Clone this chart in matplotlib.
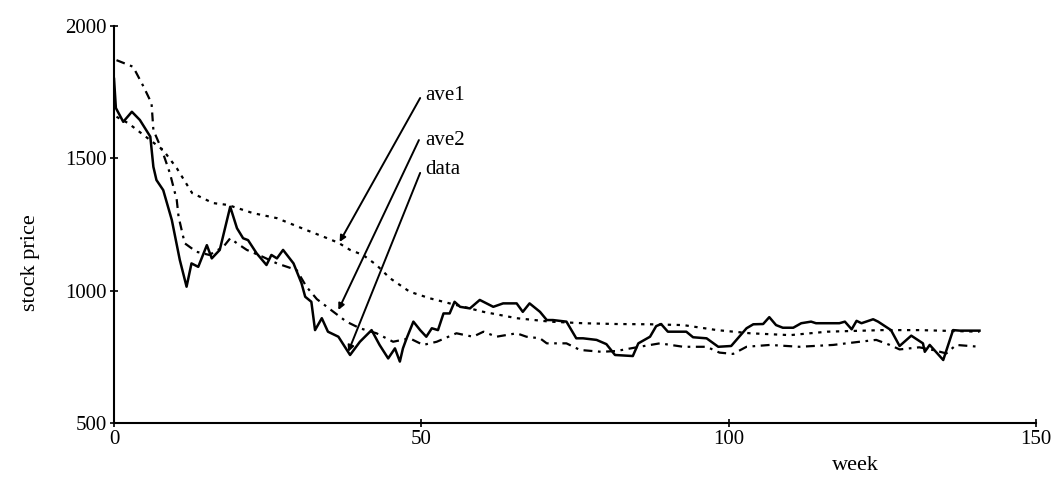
import matplotlib
matplotlib.use("Agg")
import matplotlib.pyplot as plt

plt.rcParams["font.family"] = ["Liberation Serif", "DejaVu Serif"]

# weekly closing price
data_weeks = [0, 0.3, 1.5, 2.9, 4.2, 5.9, 6.4, 6.9, 8.0, 9.4, 10.7, 11.8, 12.6, 13.7,
              15.1, 15.9, 17.2, 18.9, 20.0, 21.0, 21.8, 23.2, 24.8, 25.6, 26.5, 27.5,
              29.2, 30.5, 31.1, 32.1, 32.7, 33.8, 34.8, 36.5, 38.4, 40.0, 41.9, 43.2,
              44.6, 45.7, 46.5, 47.0, 47.6, 48.7, 49.8, 50.8, 51.7, 52.7, 53.6, 54.6,
              55.4, 56.3, 57.9, 59.5, 61.7, 63.3, 65.5, 66.5, 67.6, 69.3, 70.4, 71.4,
              73.6, 75.2, 76.3, 78.5, 80.1, 81.5, 84.4, 85.3, 87.2, 88.2, 89.0, 90.1,
              93.1, 94.2, 96.4, 98.3, 100.4, 102.9, 104.0, 105.6, 106.6, 107.7, 108.8,
              110.5, 111.8, 113.4, 114.2, 118.0, 118.9, 120.0, 120.8, 121.6, 123.5,
              124.3, 126.4, 127.8, 129.7, 131.6, 131.9, 132.7, 134.9, 136.5, 137.6, 140.8]
data_values = [1800, 1690, 1638, 1676, 1645, 1582, 1468, 1418, 1380, 1267, 1116, 1015, 1103, 1090,
               1172, 1122, 1154, 1317, 1236, 1198, 1191, 1141, 1097, 1135, 1122, 1154,
               1103, 1028, 977, 958, 851, 896, 845, 826, 757, 807, 851, 795,
               744, 782, 732, 782, 820, 883, 851, 826, 858, 851, 914, 914,
               958, 939, 933, 965, 939, 952, 952, 920, 952, 920, 889, 889,
               883, 820, 820, 814, 798, 757, 753, 801, 826, 866, 874, 845,
               845, 824, 820, 788, 791, 858, 873, 874, 900, 870, 860,
               860, 877, 883, 877, 877, 883, 854, 886, 877, 892,
               883, 851, 791, 830, 801, 769, 795, 738, 851, 849, 849]

# long moving average
ave1_weeks = [0.4, 2.3, 8.0, 10.2, 12.7, 16.1, 18.5, 22.6, 26.5, 31.3, 34.6, 36.5, 38.4,
              40.5, 42.7, 44.9, 48.1, 51.4, 54.6, 60.1, 65.5, 70.9, 76.3, 81.7, 87.2,
              92.6, 98.1, 103.5, 110.0, 116.0, 125.0, 131.0, 140.8]
ave1_values = [1657, 1633, 1531, 1463, 1369, 1331, 1324, 1293, 1274, 1229, 1199, 1181, 1154,
               1135, 1097, 1047, 996, 971, 952, 920, 896, 883, 877, 874, 873,
               870, 851, 839, 832, 845, 851, 851, 845]

# short moving average
ave2_weeks = [0.4, 3.1, 4.8, 6.1, 6.4, 7.8, 9.1, 10.2, 10.5, 11.5, 13.4, 15.5, 17.8, 18.9,
              20.0, 21.6, 24.0, 26.5, 29.7, 31.3, 33.0, 35.7, 37.8, 40.0, 42.7, 45.4,
              48.1, 50.3, 52.5, 55.7, 58.4, 60.1, 62.2, 65.5, 67.1, 69.3, 70.4, 73.6,
              75.8, 79.3, 81.7, 85.5, 88.8, 92.6, 96.4, 98.5, 100.7, 102.9, 106.7,
              111.5, 117.0, 121.3, 124.0, 126.2, 127.8, 131.0, 133.2, 135.4, 137.0, 140.8]
ave2_values = [1871, 1846, 1771, 1708, 1607, 1531, 1443, 1343, 1279, 1179, 1147, 1135, 1166, 1198,
               1179, 1154, 1130, 1103, 1078, 1015, 968, 920, 883, 858, 839, 807,
               820, 795, 807, 839, 826, 845, 826, 839, 826, 820, 801, 801,
               776, 769, 772, 788, 801, 788, 788, 766, 761, 788, 795,
               788, 795, 807, 814, 795, 778, 786, 776, 763, 795, 788]

x_ticks = [0, 50, 100, 150]
y_ticks = [500, 1000, 1500, 2000]

fig = plt.figure(figsize=(10.53, 4.79), dpi=100)
ax = fig.add_axes([0.1083, 0.1169, 0.8756, 0.8288])

ax.plot(data_weeks, data_values, color="black", lw=1.8, solid_joinstyle="round")
ax.plot(ave1_weeks, ave1_values, color="black", lw=1.6, linestyle=(0, (1.5, 2.5)))
ax.plot(ave2_weeks, ave2_values, color="black", lw=1.6, linestyle=(0, (4, 2.5, 1.2, 2.5)))

# labels with arrows
labels = ["ave1", "ave2", "data"]
label_y = [1739, 1569, 1456]
arrow_start = [(49.8, 1728), (49.6, 1569), (49.8, 1445)]
arrow_end = [(36.7, 1184), (36.5, 927), (38.1, 769)]
for name, ty, s, e in zip(labels, label_y, arrow_start, arrow_end):
    ax.annotate("", xy=e, xytext=s,
                arrowprops=dict(arrowstyle="-|>", color="black", lw=1.4,
                                mutation_scale=9, shrinkA=0, shrinkB=0))
    ax.text(50.6, ty, name, fontsize=15, ha="left", va="center")

ax.set_xlim(0, 150)
ax.set_ylim(500, 2000)
ax.set_xticks(x_ticks)
ax.set_yticks(y_ticks)
ax.tick_params(direction="inout", length=6, width=1.2, labelsize=15, pad=2)
for side in ["top", "right"]:
    ax.spines[side].set_visible(False)
for side in ["left", "bottom"]:
    ax.spines[side].set_linewidth(1.5)

ax.text(0.804, -0.106, "week", transform=ax.transAxes, fontsize=16,
        ha="center", va="center")
ax.text(-0.091, 0.405, "stock price", transform=ax.transAxes, fontsize=16,
        ha="center", va="center", rotation=90)

plt.savefig("out.png", dpi=100)
